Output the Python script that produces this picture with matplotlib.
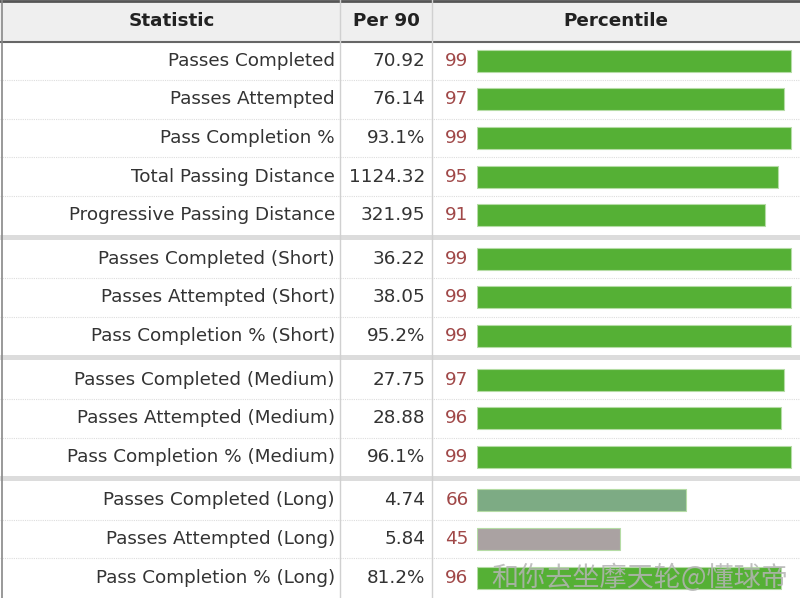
import matplotlib.pyplot as plt
from matplotlib.patches import Rectangle

# table data
statistics = [
    "Passes Completed", "Passes Attempted", "Pass Completion %",
    "Total Passing Distance", "Progressive Passing Distance",
    "Passes Completed (Short)", "Passes Attempted (Short)", "Pass Completion % (Short)",
    "Passes Completed (Medium)", "Passes Attempted (Medium)", "Pass Completion % (Medium)",
    "Passes Completed (Long)", "Passes Attempted (Long)", "Pass Completion % (Long)",
]
per90 = ["70.92", "76.14", "93.1%", "1124.32", "321.95",
         "36.22", "38.05", "95.2%",
         "27.75", "28.88", "96.1%",
         "4.74", "5.84", "81.2%"]
percentiles = [99, 97, 99, 95, 91, 99, 99, 99, 97, 96, 99, 66, 45, 96]
group_sizes = [5, 3, 3, 3]
headers = ["Statistic", "Per 90", "Percentile"]
watermark = "和你去坐摩天轮@懂球帝"

W, H = 800, 598
HEAD_BOT = 41.5
ROW_H = 38.6
SEP_H = 5.0
COL_X = [0, 340, 432, W]
FS = 13.2


def bar_color(p):
    if p >= 80:
        return "#55b035"
    if p >= 60:
        return "#7dab84"
    return "#aaa2a2"


def row_layout():
    """Return row centers and the y positions of group separators."""
    centers, seps = [], []
    y = HEAD_BOT
    for gi, n in enumerate(group_sizes):
        for _ in range(n):
            centers.append(y + ROW_H / 2)
            y += ROW_H
        if gi < len(group_sizes) - 1:
            seps.append(y)
            y += SEP_H
    return centers, seps


def main():
    fig = plt.figure(figsize=(8, 5.98), dpi=100)
    ax = fig.add_axes([0, 0, 1, 1])
    ax.set_xlim(0, W)
    ax.set_ylim(H, 0)
    ax.axis("off")

    centers, seps = row_layout()

    # header
    ax.add_patch(Rectangle((0, 0), W, HEAD_BOT, facecolor="#efefef", edgecolor="none"))
    ax.plot([0, W], [1, 1], color="#555555", lw=2)
    ax.plot([0, W], [HEAD_BOT, HEAD_BOT], color="#666666", lw=1.5)
    hx = [(COL_X[0] + COL_X[1]) / 2 + 2, (COL_X[1] + COL_X[2]) / 2, (COL_X[2] + COL_X[3]) / 2]
    for x, h in zip(hx, headers):
        ax.text(x, HEAD_BOT / 2, h, ha="center", va="center", fontsize=FS,
                fontweight="bold", color="#222222")

    # row separators (dotted) and group bands
    for c in centers[:-1]:
        y = c + ROW_H / 2
        if any(abs(y - s) < 0.5 for s in seps):
            continue
        ax.plot([0, W], [y, y], color="#dddddd", lw=0.8, ls=(0, (1, 1)))
    for s in seps:
        ax.add_patch(Rectangle((0, s), W, SEP_H, facecolor="#dcdcdc", edgecolor="none"))

    # column lines
    for x in COL_X[1:3]:
        ax.plot([x, x], [0, H], color="#d0d0d0", lw=1)
    ax.plot([2, 2], [0, H], color="#888888", lw=1.2)

    # text cells
    for c, s, v, p in zip(centers, statistics, per90, percentiles):
        ax.text(335, c, s, ha="right", va="center", fontsize=FS, color="#333333")
        ax.text(425, c, v, ha="right", va="center", fontsize=FS, color="#333333")
        ax.text(457, c, str(p), ha="center", va="center", fontsize=FS, color="#a04848")

    # percentile bars on their own 0-100 scale
    bx = fig.add_axes([477 / W, 0, (794 - 477) / W, 1])
    bx.set_xlim(0, 100)
    bx.set_ylim(H, 0)
    bx.axis("off")
    bx.patch.set_alpha(0)
    bx.barh(centers, percentiles, height=22, left=0,
            color=[bar_color(p) for p in percentiles],
            edgecolor="#b5dca5", linewidth=0.8)

    # watermark drawn on top of everything
    fig.text(640, centers[-1], watermark, transform=ax.transData,
             ha="center", va="center", fontsize=19.5,
             family=["Noto Sans CJK SC", "DejaVu Sans"], color="#b4b4b4", alpha=0.85)

    fig.savefig("out.png", dpi=100)


if __name__ == "__main__":
    main()
